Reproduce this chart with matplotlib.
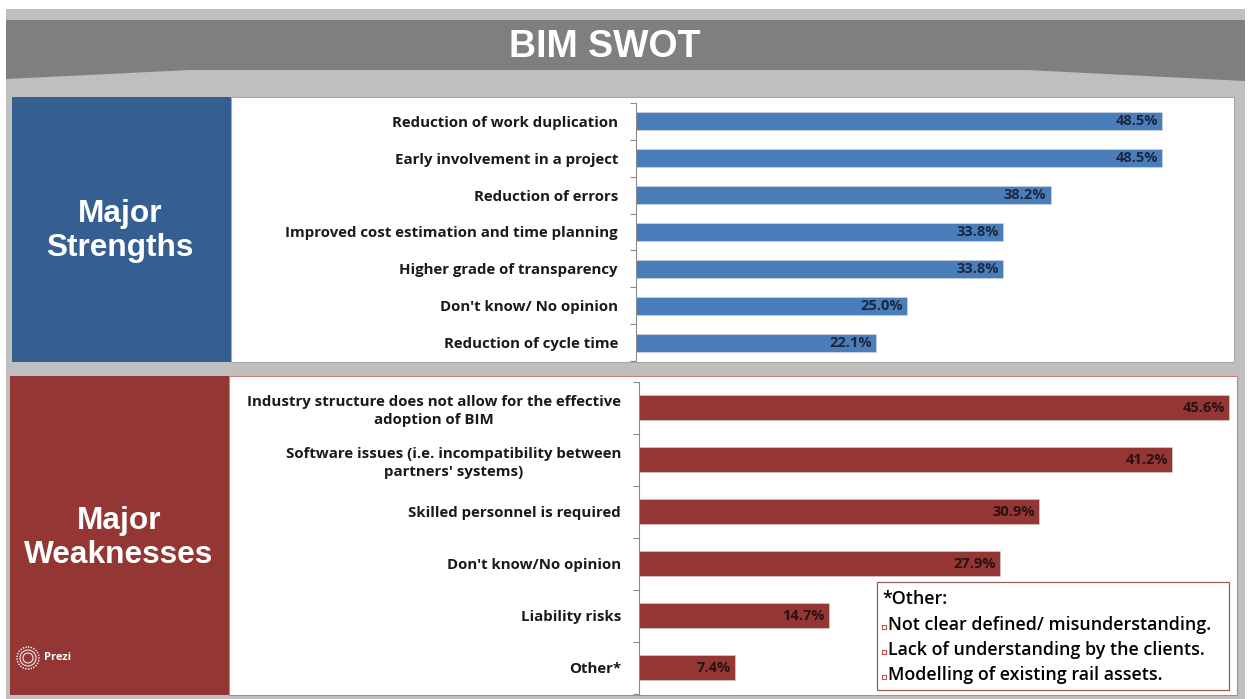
import numpy as np
import matplotlib.pyplot as plt
from matplotlib.patches import Rectangle, Polygon, Circle

# data
strengths = ['Reduction of work duplication', 'Early involvement in a project',
             'Reduction of errors', 'Improved cost estimation and time planning',
             'Higher grade of transparency', "Don't know/ No opinion",
             'Reduction of cycle time']
strength_pct = [48.5, 48.5, 38.2, 33.8, 33.8, 25.0, 22.1]

weaknesses = ['Industry structure does not allow for the effective\nadoption of BIM',
              "Software issues (i.e. incompatibility between\npartners' systems)",
              'Skilled personnel is required', "Don't know/No opinion",
              'Liability risks', 'Other*']
weakness_pct = [45.6, 41.2, 30.9, 27.9, 14.7, 7.4]

other_title = '*Other:'
other_notes = ['Not clear defined/ misunderstanding.',
               'Lack of understanding by the clients.',
               'Modelling of existing rail assets.']

W, H = 1250, 699
LIGHT = '#bfbfbf'
DARK = '#7f7f7f'
BLUE_BOX = '#355f91'
BLUE_BAR = '#4a7ebb'
RED = '#943634'
LABEL_FONT = ['Open Sans', 'DejaVu Sans']
HEAD_FONT = ['Liberation Sans', 'DejaVu Sans']

fig = plt.figure(figsize=(12.5, 6.99), dpi=100)
fig.patch.set_facecolor('white')


def box(x0, y0, x1, y1):
    # pixel box (top-left origin) -> figure fraction
    return [x0 / W, 1 - y1 / H, (x1 - x0) / W, (y1 - y0) / H]


bg = fig.add_axes([0, 0, 1, 1])
bg.set_xlim(0, W)
bg.set_ylim(H, 0)
bg.axis('off')

# header band
bg.add_patch(Rectangle((6, 9), 1239, H, color=LIGHT, lw=0))
bg.add_patch(Polygon([(6, 20), (1245, 20), (1245, 81), (1027, 70),
                      (190, 70), (6, 79)], closed=True, color=DARK, lw=0))
bg.text(605, 47, 'BIM SWOT', color='white', fontsize=27, fontweight='bold',
        family=HEAD_FONT, ha='center', va='center')

# left colour boxes and white panels
bg.add_patch(Rectangle((12, 97), 219, 265, color=BLUE_BOX, lw=0))
bg.add_patch(Rectangle((231, 97), 1003, 265, facecolor='white', edgecolor='#a6a6a6', lw=0.8))
bg.add_patch(Rectangle((10, 376), 219, 319, color=RED, lw=0))
bg.add_patch(Rectangle((229, 376), 1008, 319, facecolor='white', edgecolor='#c9807e', lw=0.8))

bg.text(120, 231, 'Major\nStrengths', color='white', fontsize=22.8, fontweight='bold',
        family=HEAD_FONT, ha='center', va='center', linespacing=1.2)
bg.text(119, 538, 'Major\nWeaknesses', color='white', fontsize=22.8, fontweight='bold',
        family=HEAD_FONT, ha='center', va='center', linespacing=1.2)

# prezi mark
for r in [11, 8, 5]:
    bg.add_patch(Circle((28, 658), r, facecolor='none', edgecolor='white',
                        lw=1.0 if r == 11 else 0.7, ls=(0, (1, 1)) if r == 11 else '-'))
bg.text(44, 658, 'Prezi', color='white', fontsize=8, fontweight='bold',
        family=LABEL_FONT, ha='left', va='center')


def bar_panel(pos, labels, values, color, xmax, txt_color):
    ax = fig.add_axes(pos)
    ax.patch.set_alpha(0)
    n = len(values)
    y = np.arange(n)
    ax.barh(y, values, height=0.49, color=color, edgecolor='#d9d9d9', lw=0.4)
    ax.set_xlim(0, xmax)
    ax.set_ylim(n - 0.5, -0.5)
    for s in ['top', 'right', 'bottom']:
        ax.spines[s].set_visible(False)
    ax.spines['left'].set_color('#8c8c8c')
    ax.spines['left'].set_linewidth(0.8)
    ax.set_xticks([])
    ax.set_yticks(y)
    ax.set_yticklabels(labels, fontsize=10.8, fontweight='bold', family=LABEL_FONT,
                       color='#1a1a1a', linespacing=1.35)
    for t in ax.get_yticklabels():
        t.set_multialignment('center')
    ax.set_yticks(np.arange(-0.5, n, 1), minor=True)
    ax.tick_params(axis='y', which='major', length=0, pad=13)
    ax.tick_params(axis='y', which='minor', length=4, color='#8c8c8c', width=0.8)
    for i, v in enumerate(values):
        ax.annotate(f'{v:.1f}%', (v, i), xytext=(-3, 0), textcoords='offset points',
                    ha='right', va='center', fontsize=10.5, fontweight='bold',
                    family=LABEL_FONT, color=txt_color)
    return ax


bar_panel(box(636, 103, 1233, 361), strengths, strength_pct, BLUE_BAR, 55.0, '#1c2740')
bar_panel(box(639, 381.5, 1237, 693.5), weaknesses, weakness_pct, RED, 46.2, '#2a1212')

# note box for "Other"
bg.add_patch(Rectangle((877, 582), 352, 108, facecolor='white', edgecolor='#a05a58', lw=0.9, zorder=5))
bg.text(882, 599, other_title, fontsize=12.9, fontweight='semibold', family=LABEL_FONT,
        color='black', ha='left', va='center', zorder=6)
for k, note in enumerate(other_notes):
    yy = 625 + 25 * k
    bg.scatter([884], [yy + 2], marker='s', s=10, facecolor='white', edgecolor='#c0504d',
               linewidths=0.8, zorder=6)
    bg.text(888, yy, note, fontsize=12.9, fontweight='semibold', family=LABEL_FONT,
            color='black', ha='left', va='center', zorder=6)

fig.savefig('out.png', dpi=100)
